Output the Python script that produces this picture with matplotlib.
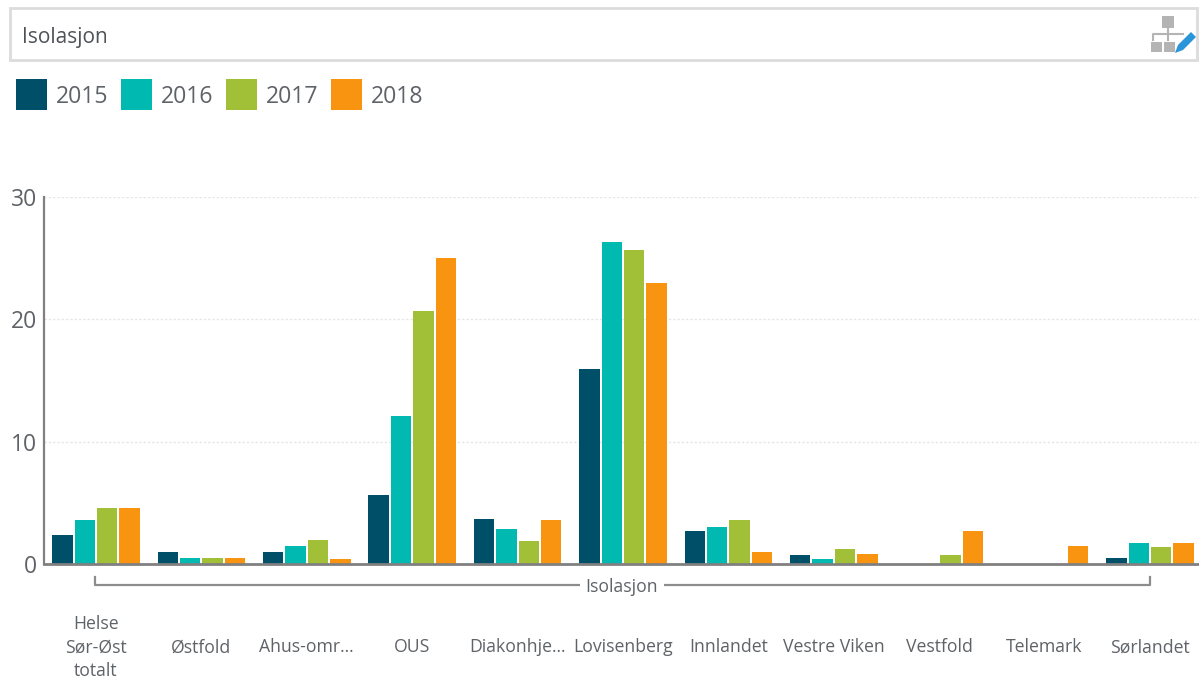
import matplotlib
matplotlib.use('Agg')
import matplotlib.pyplot as plt
from matplotlib.patches import Rectangle, Polygon

plt.rcParams['font.family'] = ['Open Sans', 'DejaVu Sans']

# Data
kategorier = ['Helse\nSør-Øst\ntotalt', 'Østfold', 'Ahus-omr...', 'OUS', 'Diakonhje...', 'Lovisenberg',
              'Innlandet', 'Vestre Viken', 'Vestfold', 'Telemark', 'Sørlandet']
aar = ['2015', '2016', '2017', '2018']
farger = ['#004f69', '#00b9b0', '#a2c037', '#f89410']
v2015 = [2.4, 1.0, 1.0, 5.6, 3.7, 15.9, 2.7, 0.7, 0, 0, 0.5]
v2016 = [3.6, 0.5, 1.5, 12.1, 2.9, 26.3, 3.0, 0.4, 0, 0, 1.7]
v2017 = [4.6, 0.5, 2.0, 20.7, 1.9, 25.7, 3.6, 1.2, 0.7, 0, 1.4]
v2018 = [4.6, 0.5, 0.4, 25.0, 3.6, 23.0, 1.0, 0.8, 2.7, 1.5, 1.7]
serier = [v2015, v2016, v2017, v2018]
yticks = [0, 10, 20, 30]

B, H = 1199, 679
fig = plt.figure(figsize=(B / 100, H / 100), dpi=100)

# Overlay in pixels for the box, legend and bracket
ov = fig.add_axes([0, 0, 1, 1])
ov.set_xlim(0, B)
ov.set_ylim(H, 0)
ov.axis('off')

ax = fig.add_axes([44 / B, 1 - 564 / H, (B - 44) / B, 367 / H])
ax.patch.set_alpha(0)

# Bars
pitch = 0.2125
for s, verdier in enumerate(serier):
    x = [i + (s - 1.5) * pitch for i in range(len(kategorier))]
    ax.bar(x, verdier, width=0.194, color=farger[s], label=aar[s], zorder=3)

ax.set_xlim(-0.493, 10.465)
ax.set_ylim(0, 30)
ax.set_yticks(yticks)
ax.set_xticks([])
ax.tick_params(axis='y', length=0, pad=5, labelsize=16.5, labelcolor='#5f6368')
ax.grid(axis='y', color='#e6e6e6', linestyle=(0, (1.7, 1.4)), linewidth=1, zorder=0)
for side in ['top', 'right']:
    ax.spines[side].set_visible(False)
ax.spines['left'].set_color('#808080')
ax.spines['left'].set_linewidth(1.6)
ax.spines['bottom'].set_color('#808080')
ax.spines['bottom'].set_linewidth(2)
ax.spines['bottom'].set_zorder(5)

# Category labels
for i, navn in enumerate(kategorier):
    ax.text(i, -83.5 / 367, navn, transform=ax.get_xaxis_transform(), ha='center', va='center',
            fontsize=12.7, color='#5f6368', linespacing=1.42)

# Filter box
ov.add_patch(Rectangle((10, 8), 1187, 52, facecolor='white', edgecolor='#dcdcdc', linewidth=2))
ov.text(22, 37, 'Isolasjon', fontsize=15, color='#4f5358', va='center')

# Hierarchy icon
ov.add_patch(Rectangle((1162, 16), 12, 12, color='#b4b4b4', lw=0))
ov.plot([1168, 1168], [28, 34], color='#b4b4b4', lw=1.5)
ov.plot([1153, 1153, 1183], [40, 34, 34], color='#b4b4b4', lw=1.5)
ov.plot([1168, 1168], [34, 40], color='#b4b4b4', lw=1.5)
ov.add_patch(Rectangle((1151, 42), 11, 10, color='#b4b4b4', lw=0))
ov.add_patch(Rectangle((1164, 42), 11, 10, color='#b4b4b4', lw=0))
ov.add_patch(Polygon([[1175, 53], [1178, 45], [1191, 32], [1196, 37], [1183, 50]], color='#2b95d9', lw=0))

# Legend
for s, navn in enumerate(aar):
    x0 = 16 + s * 105
    ov.add_patch(Rectangle((x0, 79), 31, 31, color=farger[s], lw=0))
    ov.text(x0 + 40, 97, navn, fontsize=16.6, color='#5f6368', va='center')

# Bracket with group name
ov.plot([95, 95, 1150, 1150], [577, 585, 585, 577], color='#8c8c8c', lw=1.6)
ov.text(622, 587, 'Isolasjon', fontsize=12.7, color='#5f6368', ha='center', va='center',
        bbox=dict(facecolor='white', edgecolor='none', pad=4))

fig.savefig('out.png', dpi=100)
